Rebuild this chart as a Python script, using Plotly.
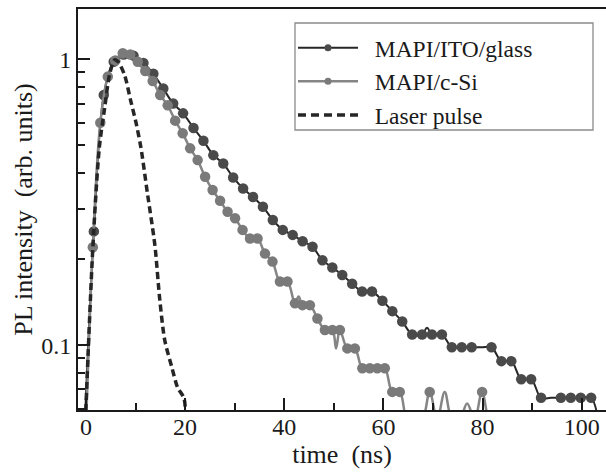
import plotly.graph_objects as go

# ---------------- data ----------------
# MAPI/ITO/glass : time (ns), PL intensity, marker shown (1) or line-only point (0)
ito_t = [-0.4, 1.6, 3.6, 5.6, 7.6, 9.6, 11.6, 13.6, 15.6, 17.6, 19.6, 21.7, 23.7, 25.7,
         27.7, 29.7, 31.7, 33.7, 35.7, 37.7, 39.7, 41.7, 43.7, 45.7, 47.7, 49.7, 51.7,
         53.7, 55.7, 57.7, 59.8, 61.8, 63.8, 65.8, 67.8, 68.8, 69.8, 71.8, 73.8, 75.8,
         77.8, 79.8, 81.8, 83.8, 85.8, 87.8, 89.8, 91.8, 93.8, 95.8, 97.8, 99.8, 101.9,
         103.9]
ito_v = [0.045, 0.25, 0.75, 0.98, 1.04, 1.03, 0.97, 0.89, 0.79, 0.70, 0.647, 0.575, 0.519,
         0.462, 0.432, 0.386, 0.353, 0.330, 0.305, 0.274, 0.253, 0.243, 0.231, 0.221, 0.198,
         0.187, 0.176, 0.164, 0.154, 0.154, 0.143, 0.1315, 0.121, 0.109, 0.109, 0.115, 0.109,
         0.109, 0.0983, 0.0983, 0.0983, 0.0983, 0.0983, 0.0879, 0.0879, 0.076, 0.076, 0.0654,
         0.0654, 0.0654, 0.0654, 0.0654, 0.0654, 0.045]
ito_m = [0, 1, 1, 1, 1, 1, 1, 1, 1, 1, 1, 1, 1, 1, 1, 1, 1, 1, 1, 1, 1, 1, 1, 1, 1, 1, 1,
         1, 1, 1, 1, 1, 1, 1, 1, 0, 1, 1, 1, 1, 1, 0, 1, 1, 1, 1, 1, 1, 0, 1, 1, 1, 1, 0]

# MAPI/c-Si
csi_t = [-0.1, 1.39, 2.90, 4.41, 5.92, 7.43, 8.94, 10.45, 11.96, 13.47, 14.98, 16.49, 18.00,
         19.51, 21.02, 22.53, 24.04, 25.55, 27.06, 28.57, 30.08, 31.59, 33.10, 34.61, 36.12,
         37.63, 39.14, 40.65, 42.16, 42.9, 43.67, 45.18, 46.69, 48.20, 49.71, 50.45, 51.22,
         52.73, 54.24, 55.75, 57.26, 58.77, 60.28, 61.79, 63.30, 64.81, 66.32, 67.83, 69.34,
         70.85, 72.36, 73.87, 75.38, 76.89, 78.40, 79.91, 81.42, 82.93]
csi_v = [0.045, 0.22, 0.60, 0.87, 0.99, 1.05, 1.04, 0.98, 0.91, 0.84, 0.75, 0.69, 0.61,
         0.551, 0.488, 0.444, 0.388, 0.349, 0.32, 0.293, 0.278, 0.253, 0.236, 0.236, 0.209,
         0.196, 0.167, 0.167, 0.140, 0.148, 0.138, 0.138, 0.124, 0.113, 0.113, 0.0974, 0.113,
         0.0974, 0.0974, 0.083, 0.083, 0.083, 0.083, 0.0686, 0.0686, 0.055, 0.055, 0.055,
         0.0686, 0.055, 0.0686, 0.055, 0.055, 0.0625, 0.055, 0.0686, 0.055, 0.055]
csi_m = [0, 1, 1, 1, 1, 1, 1, 1, 1, 1, 1, 1, 1, 1, 1, 1, 1, 1, 1, 1, 1, 1, 1, 1, 1, 1, 1,
         1, 1, 0, 1, 1, 1, 1, 1, 0, 1, 1, 1, 1, 1, 1, 1, 1, 1, 0, 0, 0, 1, 0, 0, 0, 0, 0, 0,
         1, 0, 0]

# Laser pulse
las_t = [-0.3, 1.4, 2.7, 3.8, 4.8, 5.8, 6.5, 7.8, 9.0, 10.1, 11.1, 12.4, 13.9, 14.9, 15.9,
         17.3, 18.5, 19.8, 20.0]
las_v = [0.045, 0.22, 0.49, 0.68, 0.89, 0.995, 0.98, 0.88, 0.72, 0.60, 0.49, 0.34, 0.224,
         0.144, 0.104, 0.084, 0.071, 0.065, 0.045]

names = ["MAPI/ITO/glass", "MAPI/c-Si", "Laser pulse"]

x_ticks = [0, 20, 40, 60, 80, 100]
x_minor = [10, 30, 50, 70, 90]
y_ticks = [0.1, 1]
y_ticklabels = ["0.1", "1"]
y_minor = [0.06, 0.07, 0.08, 0.09, 0.2, 0.3, 0.4, 0.5, 0.6, 0.7, 0.8, 0.9]

# ---------------- styles ----------------
FONT = "Liberation Serif, Times New Roman, serif"
TXT = "#1a1a1a"
ITO_LINE, ITO_MK = "#262626", "#4a4a4a"
CSI_LINE, CSI_MK = "#858585", "#7a7a7a"
LAS = "#262626"
MK = 10.5


def subset(t, v, m):
    return [a for a, k in zip(t, m) if k], [b for b, k in zip(v, m) if k]


fig = go.Figure()

# MAPI/ITO/glass
fig.add_trace(go.Scatter(x=ito_t, y=ito_v, mode="lines", showlegend=False,
                         line=dict(color=ITO_LINE, width=2, shape="spline", smoothing=1)))
mx, my = subset(ito_t, ito_v, ito_m)
fig.add_trace(go.Scatter(x=mx, y=my, mode="markers", showlegend=False,
                         marker=dict(color=ITO_MK, size=MK)))
# MAPI/c-Si
fig.add_trace(go.Scatter(x=csi_t, y=csi_v, mode="lines", showlegend=False,
                         line=dict(color=CSI_LINE, width=2.5, shape="spline", smoothing=1)))
mx, my = subset(csi_t, csi_v, csi_m)
fig.add_trace(go.Scatter(x=mx, y=my, mode="markers", showlegend=False,
                         marker=dict(color=CSI_MK, size=MK)))
# Laser
fig.add_trace(go.Scatter(x=las_t, y=las_v, mode="lines", showlegend=False,
                         line=dict(color=LAS, width=3.5, dash="7px,4px",
                                   shape="spline", smoothing=0.8)))

# legend entries
NB = "\u00a0\u00a0"
fig.add_trace(go.Scatter(x=[None], y=[None], mode="lines+markers", name=NB + names[0],
                         line=dict(color=ITO_LINE, width=2),
                         marker=dict(color=ITO_MK, size=7)))
fig.add_trace(go.Scatter(x=[None], y=[None], mode="lines+markers", name=NB + names[1],
                         line=dict(color=CSI_LINE, width=2.5),
                         marker=dict(color=CSI_MK, size=7)))
fig.add_trace(go.Scatter(x=[None], y=[None], mode="lines", name=NB + names[2],
                         line=dict(color=LAS, width=3.5, dash="8px,5px")))

L, R, T, B = 78, 0, 9, 63
W, H = 606, 473
pw, ph = W - L - R, H - T - B


def px2paper(x, y):
    return (x - L) / pw, (H - B - y) / ph


bx0, by0 = px2paper(295, 130)
bx1, by1 = px2paper(593, 23)
fig.add_shape(type="rect", xref="paper", yref="paper", x0=bx0, y0=by0, x1=bx1, y1=by1,
              line=dict(color="#8a8a8a", width=1.3), fillcolor="rgba(0,0,0,0)", layer="above")

lx, ly = px2paper(293, 26)

fig.update_layout(
    width=W, height=H,
    margin=dict(l=L, r=R, t=T, b=B),
    paper_bgcolor="white", plot_bgcolor="white",
    font=dict(family=FONT, color=TXT, size=24),
    showlegend=True,
    legend=dict(x=lx, y=ly, xanchor="left", yanchor="top", bgcolor="rgba(0,0,0,0)",
                borderwidth=0, font=dict(family=FONT, size=23.5, color=TXT),
                itemwidth=60, tracegroupgap=0),
    xaxis=dict(range=[-1.6, 104.9], tickvals=x_ticks, ticks="inside", ticklen=12,
               tickwidth=1.5, tickcolor=TXT, ticklabelstandoff=-6,
               minor=dict(tickvals=x_minor, ticks="inside", ticklen=7, tickwidth=1.5,
                          tickcolor=TXT),
               showline=True, linewidth=2, linecolor=TXT, mirror=True,
               showgrid=False, zeroline=False,
               tickfont=dict(family=FONT, size=24, color=TXT),
               title=dict(text="time  (ns)", font=dict(family=FONT, size=26, color=TXT),
                          standoff=0)),
    yaxis=dict(type="log", range=[-1.227, 0.176], tickvals=y_ticks, ticktext=y_ticklabels,
               ticks="inside", ticklen=12, tickwidth=1.5, tickcolor=TXT,
               minor=dict(tickvals=y_minor, ticks="inside", ticklen=7, tickwidth=1.5,
                          tickcolor=TXT),
               showline=True, linewidth=2, linecolor=TXT,
               showgrid=False, zeroline=False,
               tickfont=dict(family=FONT, size=24, color=TXT),
               title=dict(text="PL intensity  (arb. units)",
                          font=dict(family=FONT, size=26, color=TXT), standoff=1)),
)

fig.write_html("out.html", config={"displayModeBar": False},
               post_script="document.body.style.margin='0';document.body.style.overflow='hidden';")
